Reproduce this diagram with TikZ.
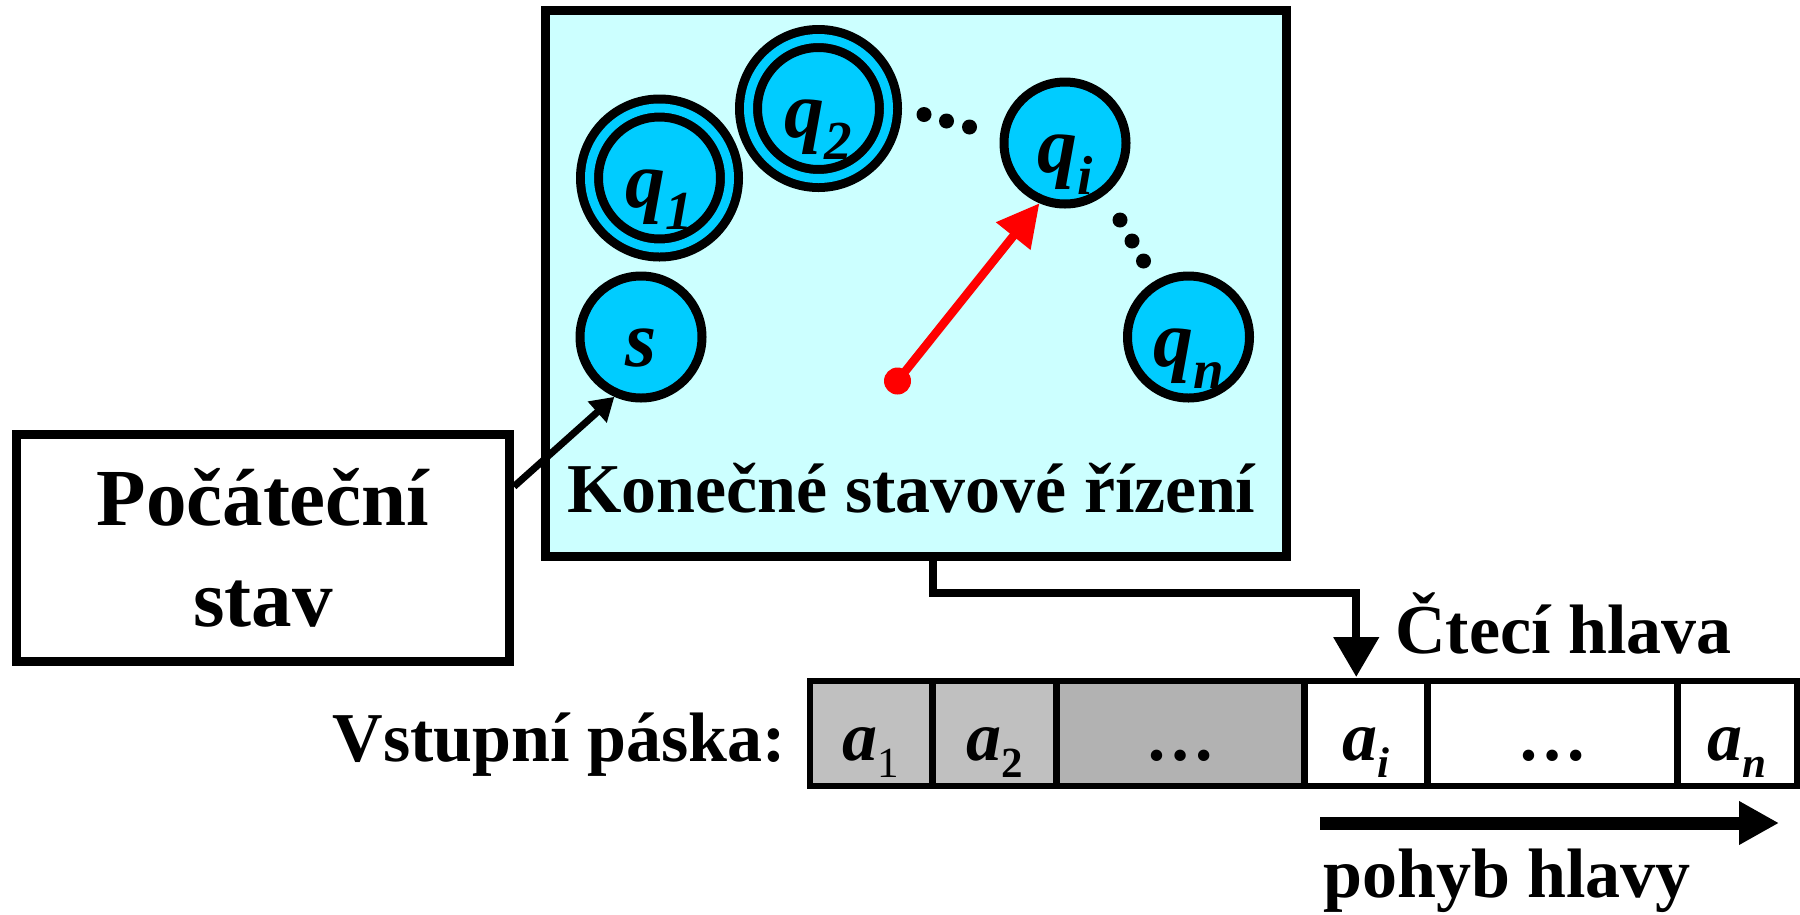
\documentclass[tikz,border=0pt]{standalone}
\usepackage{fontspec}
\setmainfont{Liberation Serif}
\usepackage{tikz}
\usetikzlibrary{arrows.meta,calc,positioning}
\usepackage{xcolor}
\definecolor{ctrlbg}{HTML}{CCFFFF}
\definecolor{statefill}{HTML}{00CCFF}
\definecolor{tapedone}{HTML}{C0C0C0}
\definecolor{tapeskip}{HTML}{B2B2B2}

\newcommand\bigfont{\fontsize{70}{84}\selectfont\bfseries}
\newcommand\statefont{\fontsize{80}{96}\selectfont\bfseries\itshape}
\newcommand\stsub[1]{\raisebox{-22pt}{\fontsize{55}{60}\selectfont #1}}
\newcommand\tpsub[1]{\raisebox{-17pt}{\fontsize{43}{46}\selectfont #1}}

\tikzset{
  state/.style={circle, draw, line width=9pt, fill=statefill, minimum size=122pt,
    inner sep=0pt, text height=70pt, text depth=12pt, font=\statefont},
  final/.style={state, double=statefill, double distance=9pt, minimum size=140pt},
  cell/.style={draw, line width=6.5pt, minimum width=#1, minimum height=105pt,
    inner sep=0pt, outer sep=0pt, text height=60pt, text depth=7pt, font=\bigfont\itshape},
  lbl/.style={font=\bigfont, inner sep=0pt}
}

\begin{document}
\begin{tikzpicture} [x=1pt, y=-1pt]
\useasboundingbox (0,0) rectangle (1800,914);

\node[draw, line width=9pt, fill=ctrlbg, minimum width=741pt, minimum height=546pt, inner sep=0pt] (fsc) at (915.5,283.5) {};
\node[lbl, anchor=base west] (fsclbl) at (567,512) {Konečné stavové řízení};

\node[state] (s) at (641,337) {s};
\node[final] (q1) at (659.5,178) {q\stsub{1}};
\node[final] (q2) at (818.5,108.5) {q\stsub{2}};
\node[state] (qi) at (1065,143) {q\stsub{i}};
\node[state] (qn) at (1188.5,337) {q\stsub{n}};
\foreach \x/\y in {924/114.5, 946.5/121, 969.5/127, 1120/220, 1132/241, 1143.5/261}
  \fill (\x,\y) circle (7.5);

\node[circle, fill=red, minimum size=27pt, inner sep=0pt] (hd) at (897.5,381) {};
\draw[red, line width=8.5pt, -{Triangle[length=42pt,width=42pt]}] (hd.center) -- (qi.247);

\node[draw, line width=9pt, minimum width=493pt, minimum height=227.5pt, align=center,
  font=\fontsize{81}{101}\selectfont\bfseries] (init) at (263,548) {Počáteční\\stav};
\draw[line width=7pt, -{Triangle[length=23pt,width=27pt]}] ($(init.north east)!0.24!(init.south east)$) -- (s.246);

\node[cell=122.5pt, fill=tapedone] (a1) at (871,733.5) {a\tpsub{\mdseries\upshape 1}};
\node[cell=124pt, fill=tapedone, right=0pt of a1] (a2) {a\tpsub{\upshape 2}};
\node[cell=248pt, fill=tapeskip, right=0pt of a2] (a3) {\upshape …};
\node[cell=123pt, right=0pt of a3] (ai) {a\tpsub{i}};
\node[cell=250pt, right=0pt of ai] (a5) {\upshape …};
\node[cell=120pt, right=0pt of a5] (an) {a\tpsub{n}};
\node[lbl, anchor=base east] (tapelbl) at (786,761) {Vstupní páska:};

\draw[line width=8pt, -{Triangle[length=40pt,width=44pt]}] ([xshift=17.5pt]fsc.south) -- ++(0,31.5) -| ([xshift=-9.5pt,yshift=4pt]ai.north);
\node[lbl, anchor=base west] (headlbl) at (1395,653) {Čtecí hlava};

\coordinate (mvA) at (1320,823);
\coordinate (mvB) at (1779,823);
\draw[line width=13pt, -{Triangle[length=40pt,width=41pt]}] (mvA) -- (mvB);
\node[lbl, anchor=base west] (movelbl) at (1323,897) {pohyb hlavy};
\end{tikzpicture}
\end{document}
